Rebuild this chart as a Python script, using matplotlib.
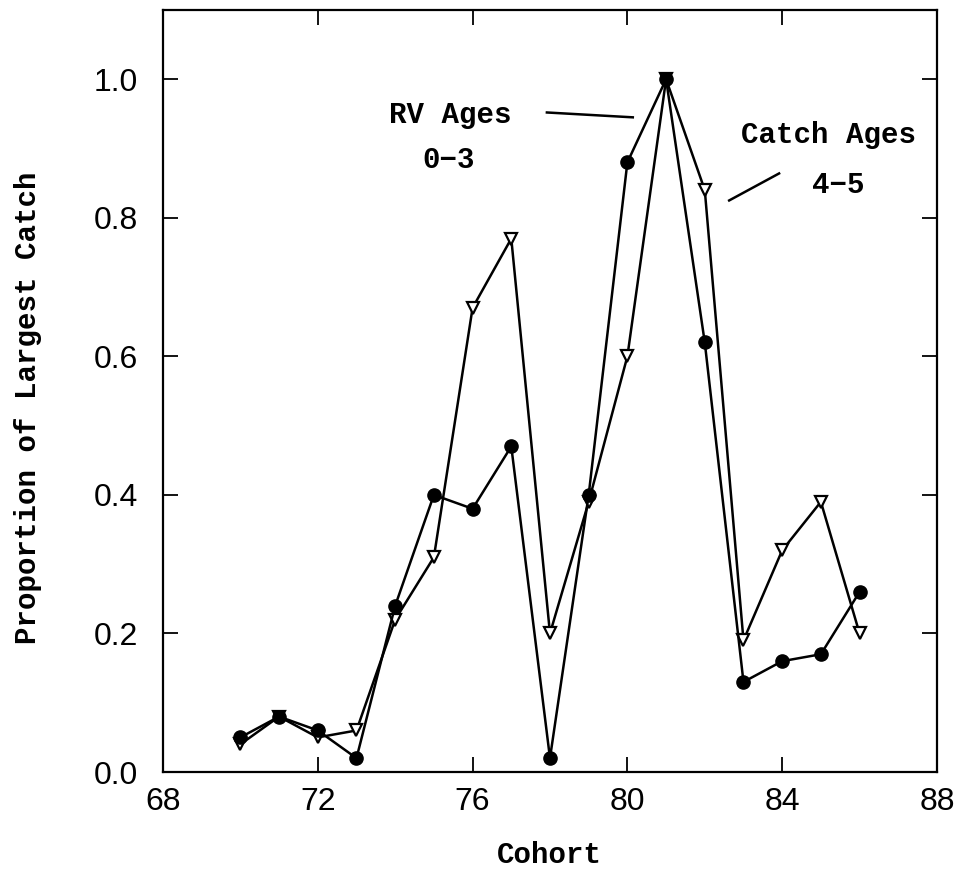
import matplotlib
matplotlib.use('Agg')

import matplotlib.pyplot as plt
from matplotlib.ticker import FormatStrFormatter

cohort = list(range(70, 87))
rv_ages = [0.05, 0.08, 0.06, 0.02, 0.24, 0.40, 0.38, 0.47, 0.02,
           0.40, 0.88, 1.00, 0.62, 0.13, 0.16, 0.17, 0.26]
catch_ages = [0.04, 0.08, 0.05, 0.06, 0.22, 0.31, 0.67, 0.77, 0.20,
              0.39, 0.60, 1.00, 0.84, 0.19, 0.32, 0.39, 0.20]

x_ticks = [68, 72, 76, 80, 84, 88]
y_ticks = [0.0, 0.2, 0.4, 0.6, 0.8, 1.0]

mono = dict(family='Liberation Mono', fontweight='bold', fontsize=21)
sans = ['Liberation Sans Narrow', 'Liberation Sans', 'DejaVu Sans']

fig = plt.figure(figsize=(9.61, 8.8), dpi=100)
ax = fig.add_axes([0.1696, 0.1227, 0.8054, 0.866])

ax.plot(cohort, catch_ages, color='black', lw=1.8, marker='v', ms=8.5,
        mfc='white', mec='black', mew=1.6, zorder=3)
ax.plot(cohort, rv_ages, color='black', lw=1.8, marker='o', ms=9.5,
        mfc='black', mec='black', zorder=4)

# series labels with pointer lines
ax.text(75.42, 0.949, 'RV Ages', ha='center', va='center', **mono)
ax.text(75.39, 0.884, '0\u22123', ha='center', va='center', **mono)
ax.plot([77.92, 80.14], [0.952, 0.945], color='black', lw=1.8)
ax.text(85.2, 0.92, 'Catch Ages', ha='center', va='center', **mono)
ax.text(85.44, 0.848, '4\u22125', ha='center', va='center', **mono)
ax.plot([82.63, 83.92], [0.825, 0.864], color='black', lw=1.8)

ax.set_xlim(68, 88)
ax.set_ylim(0, 1.1)
ax.set_xticks(x_ticks)
ax.set_yticks(y_ticks)
ax.yaxis.set_major_formatter(FormatStrFormatter('%.1f'))
ax.tick_params(direction='in', length=11, width=1.3, top=True, right=True,
               labelsize=23)
ax.tick_params(axis='x', pad=11)
ax.tick_params(axis='y', pad=18)
for lab in ax.get_xticklabels() + ax.get_yticklabels():
    lab.set_family(sans)
for sp in ax.spines.values():
    sp.set_linewidth(1.6)

ax.set_xlabel('Cohort', va='center', **mono)
ax.xaxis.set_label_coords(0.499, -0.109)
ax.set_ylabel('Proportion of Largest Catch', va='center', **mono)
ax.yaxis.set_label_coords(-0.174, 0.478)

fig.savefig('out.png', dpi=100)
